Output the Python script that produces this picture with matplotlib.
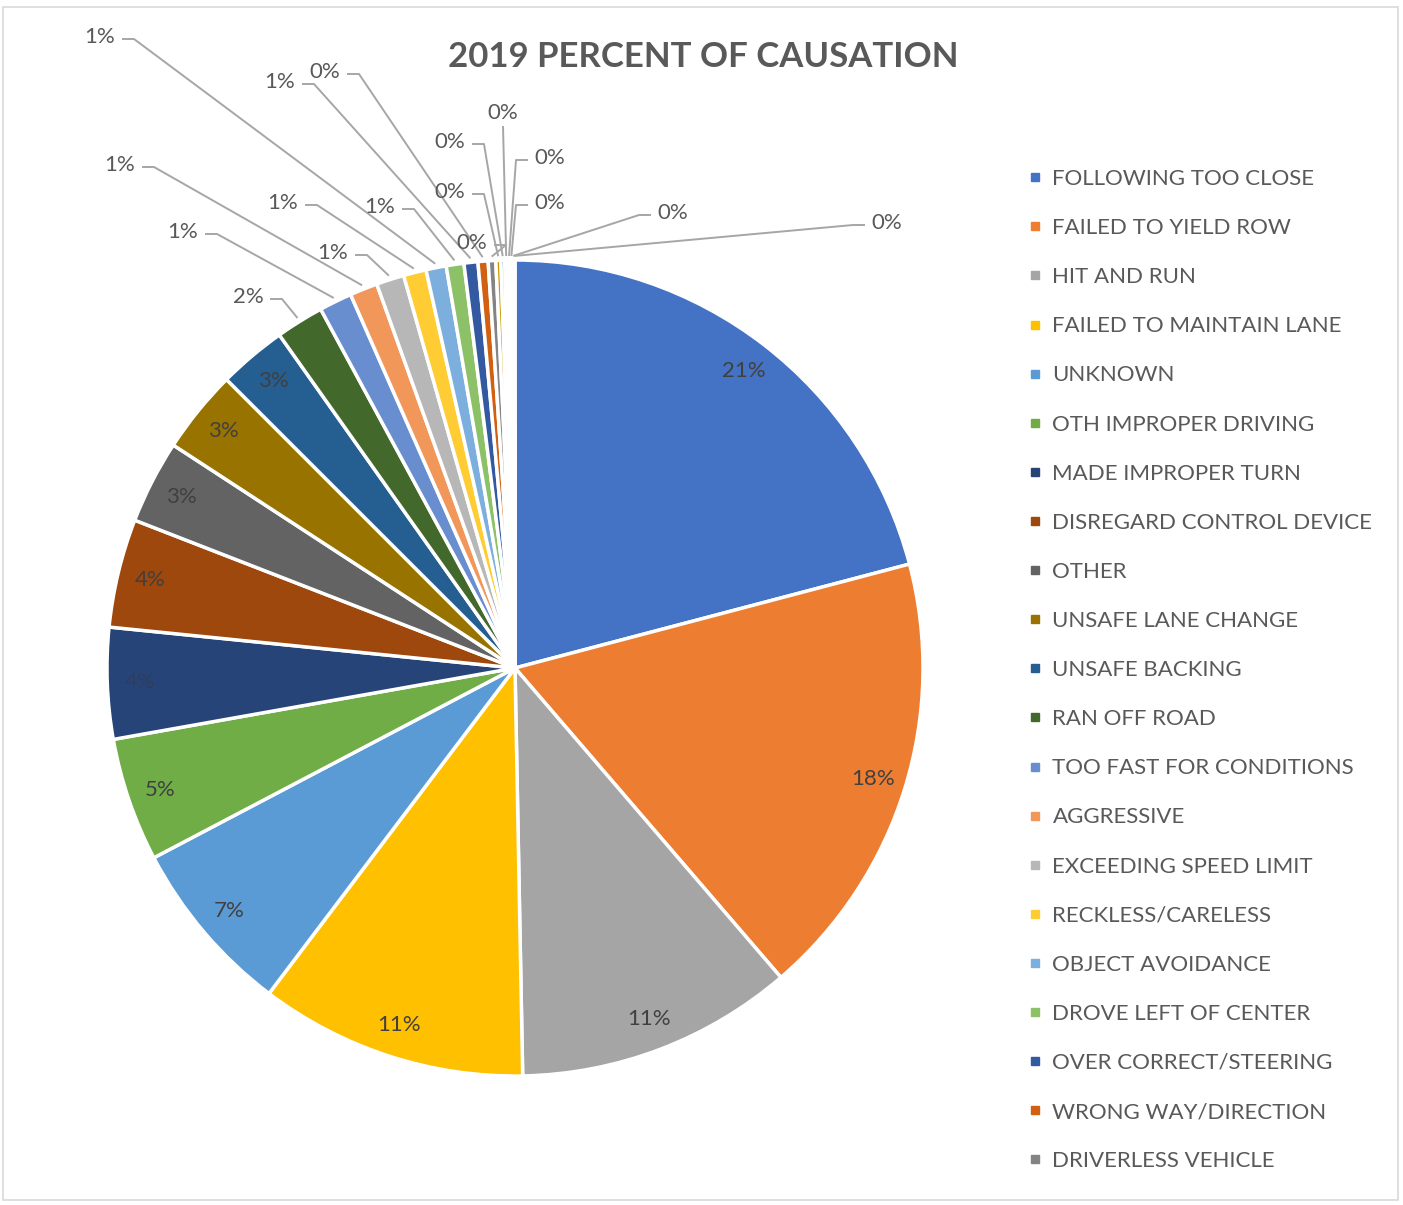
import matplotlib
matplotlib.use('Agg')
import matplotlib.pyplot as plt
from matplotlib.lines import Line2D
from matplotlib.patches import Rectangle
import numpy as np

plt.rcParams['font.family'] = ['Lato', 'DejaVu Sans']

# causes as shown in the legend (Excel truncated it; 7 tiny slices have no entry)
causes = [
    'FOLLOWING TOO CLOSE', 'FAILED TO YIELD ROW', 'HIT AND RUN',
    'FAILED TO MAINTAIN LANE', 'UNKNOWN', 'OTH IMPROPER DRIVING',
    'MADE IMPROPER TURN', 'DISREGARD CONTROL DEVICE', 'OTHER',
    'UNSAFE LANE CHANGE', 'UNSAFE BACKING', 'RAN OFF ROAD',
    'TOO FAST FOR CONDITIONS', 'AGGRESSIVE', 'EXCEEDING SPEED LIMIT',
    'RECKLESS/CARELESS', 'OBJECT AVOIDANCE', 'DROVE LEFT OF CENTER',
    'OVER CORRECT/STEERING', 'WRONG WAY/DIRECTION', 'DRIVERLESS VEHICLE',
]
share = [20.9, 17.8, 11.0, 10.6, 7.0, 4.9, 4.4, 4.3, 3.3, 3.3, 2.7, 1.9,
         1.3, 1.1, 1.1, 0.9, 0.8, 0.7, 0.55, 0.4, 0.3,
         0.2, 0.15, 0.12, 0.1, 0.08, 0.06, 0.04]

colors = ['#4472C4', '#ED7D31', '#A5A5A5', '#FFC000', '#5B9BD5', '#70AD47',
          '#264478', '#9E480E', '#636363', '#997300', '#255E91', '#43682B',
          '#698ED0', '#F1975A', '#B7B7B7', '#FFCD33', '#7CAFDD', '#8CC168',
          '#335AA1', '#D26012', '#848484', '#CC9A00', '#327DC2', '#5A8A39',
          '#8FAADC', '#F4B183', '#C9C9C9', '#FFD966']

# label spots (pixels) for the slices labelled outside, from RAN OFF ROAD on
out_pos = [(248, 297), (183, 232), (120, 165), (333, 253), (283, 203),
           (100, 37), (380, 207), (280, 82), (325, 72), (472, 243),
           (450, 192), (450, 142), (503, 113), (550, 158), (550, 203),
           (673, 213), (887, 223)]

W, H = 1403, 1205
cx, cy, R = 515, H - 668, 408
n_inside = 11

fig = plt.figure(figsize=(W / 100, H / 100), dpi=100)
ax = fig.add_axes([0, 0, 1, 1])
wedges, _ = ax.pie(share, colors=colors, startangle=90, counterclock=False,
                   center=(cx, cy), radius=R,
                   wedgeprops=dict(edgecolor='white', linewidth=2.5))
ax.set_xlim(0, W)
ax.set_ylim(0, H)
ax.set_aspect('equal')
ax.axis('off')

total = sum(share)
pct = ['%d%%' % int(np.floor(v / total * 100 + 0.5)) for v in share]

for i, w in enumerate(wedges):
    mid = np.radians((w.theta1 + w.theta2) / 2)
    if i < n_inside:
        # dark label on the navy slice is hardly visible in the original
        col = '#2E3E5E' if i == 6 else '#404040'
        ax.text(cx + 0.92 * R * np.cos(mid), cy + 0.92 * R * np.sin(mid), pct[i],
                ha='center', va='center', fontsize=16, color=col)
        continue
    tx, ty = out_pos[i - n_inside]
    ty = H - ty
    axp, ayp = cx + 1.01 * R * np.cos(mid), cy + 1.01 * R * np.sin(mid)
    if abs(tx - axp) < 6:
        xs, ys = [tx, axp], [ty - 13, ayp]
    elif tx < axp:
        xs, ys = [tx + 22, tx + 34, axp], [ty - 2, ty - 2, ayp]
    else:
        xs, ys = [tx - 22, tx - 34, axp], [ty - 2, ty - 2, ayp]
    ax.plot(xs, ys, color='#A6A6A6', lw=1.4, solid_capstyle='butt')
    ax.text(tx, ty, pct[i], ha='center', va='center', fontsize=16, color='#595959')

fig.text(703 / W, 1 - 57 / H, '2019 PERCENT OF CAUSATION', ha='center', va='center',
         fontsize=25, fontweight='bold', color='#595959')

handles = [Line2D([], [], marker='s', ls='none', markersize=6,
                  markerfacecolor=colors[i], markeredgecolor=colors[i])
           for i in range(len(causes))]
leg = ax.legend(handles, causes, loc='upper left', bbox_to_anchor=(1028 / W, 1 - 169 / H),
                bbox_transform=fig.transFigure, frameon=False, fontsize=16,
                labelspacing=1.31, handlelength=0.6, handletextpad=0.5,
                borderpad=0, borderaxespad=0)
for t in leg.get_texts():
    t.set_color('#595959')

fig.patches.append(Rectangle((3 / W, 5 / H), 1 - 8 / W, 1 - 12 / H, transform=fig.transFigure,
                             fill=False, edgecolor='#D9D9D9', lw=1.2))

fig.savefig('out.png', dpi=100, facecolor='white')
